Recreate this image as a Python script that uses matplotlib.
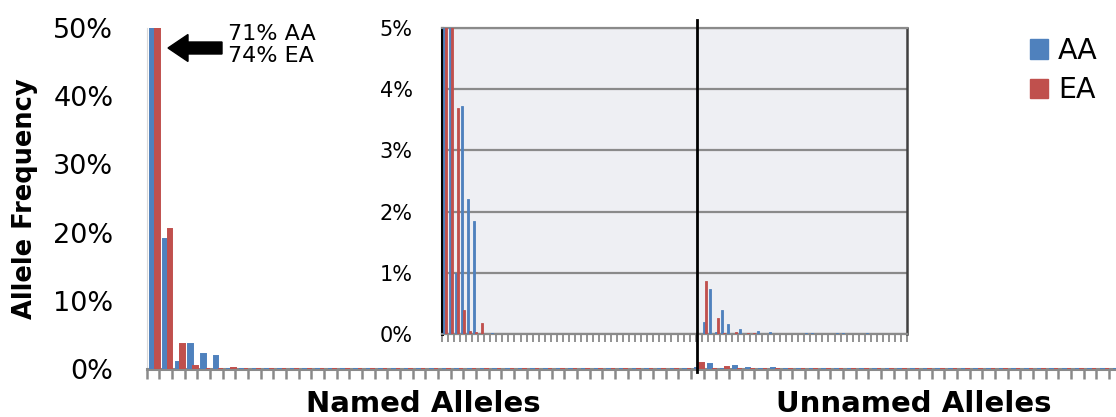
#!/usr/bin/env python3
"""
Allele frequency bar chart (AA vs EA), named and unnamed alleles,
with a zoomed 0-5% inset of the same data.
"""

import numpy as np
import matplotlib.pyplot as plt
import matplotlib.transforms as mtransforms
from matplotlib.patches import Patch, FancyArrow
from matplotlib.lines import Line2D
from matplotlib.ticker import PercentFormatter

# allele frequencies, one entry per allele (43 named, 34 unnamed)
named_aa = [0.71, 0.19, 0.010, 0.0372, 0.022, 0.0185, 0.0, 0.0, 0.0002, 0.0,
            0.0, 0.0, 0.0, 0.0, 0.0, 0.0, 0.0, 0.0, 0.0, 0.0,
            0.0, 0.0, 0.0, 0.0, 0.0, 0.0, 0.0, 0.0, 0.0, 0.0,
            0.0, 0.0, 0.0, 0.0, 0.0, 0.0, 0.0, 0.0, 0.0, 0.0,
            0.0, 0.0, 0.0]
named_ea = [0.74, 0.205, 0.037, 0.004, 0.0005, 0.0003, 0.0018, 0.0, 0.0, 0.0,
            0.0, 0.0, 0.0, 0.0, 0.0, 0.0, 0.0, 0.0, 0.0, 0.0,
            0.0, 0.0, 0.0, 0.0, 0.0, 0.0, 0.0, 0.0, 0.0, 0.0,
            0.0, 0.0, 0.0, 0.0, 0.0, 0.0, 0.0, 0.0, 0.0, 0.0,
            0.0, 0.0, 0.0]
unnamed_aa = [0.0019, 0.0074, 0.0003, 0.0039, 0.0017, 0.0, 0.0008, 0.0, 0.0, 0.0005,
              0.0, 0.0003, 0.0, 0.0, 0.0, 0.0, 0.0, 0.0002, 0.0002, 0.0,
              0.0, 0.0, 0.0002, 0.0002, 0.0, 0.0, 0.0, 0.0001, 0.0, 0.0,
              0.0, 0.0, 0.0, 0.0]
unnamed_ea = [0.0086, 0.0, 0.0026, 0.0002, 0.0, 0.0004, 0.0, 0.0002, 0.0002, 0.0,
              0.0, 0.0, 0.0, 0.0, 0.0, 0.0, 0.0, 0.0, 0.0, 0.0,
              0.0, 0.0, 0.0, 0.0, 0.0, 0.0, 0.0, 0.0, 0.0, 0.0,
              0.0, 0.0, 0.0, 0.0]
series = ["AA", "EA"]
main_yticks = [0.0, 0.1, 0.2, 0.3, 0.4, 0.5]
inset_yticks = [0.0, 0.01, 0.02, 0.03, 0.04, 0.05]

BLUE = "#4F81BD"
RED = "#C0504D"
AXIS_GRAY = "#8A8A8A"

W, H = 1116, 417


def fx(px):
    return px / W


def fy(py):
    return 1 - py / H


aa = np.array(named_aa + unnamed_aa)
ea = np.array(named_ea + unnamed_ea)
x = np.arange(len(aa))
n_named = len(named_aa)

fig = plt.figure(figsize=(W / 100, H / 100), dpi=100)

# main chart, 0-50%
main = fig.add_axes([fx(146.7), fy(369), 77 * 12.66 / W, (369 - 28) / H])
main.bar(x - 0.02, aa, width=0.36, color=BLUE, edgecolor=BLUE, lw=1.4, zorder=3)
main.bar(x + 0.34, ea, width=0.36, color=RED, edgecolor=RED, lw=1.4, zorder=3)
main.set_xlim(-0.5, len(aa) - 0.5)
main.set_ylim(0, 0.5)
main.set_yticks(main_yticks)
main.yaxis.set_major_formatter(PercentFormatter(1.0, decimals=0))
main.set_xticks(np.arange(-0.5, len(aa), 1.0))
main.set_xticklabels([])
main.tick_params(axis="x", direction="out", length=7.5, width=1.8, color=AXIS_GRAY)
main.tick_params(axis="y", length=0, labelsize=19.5, pad=24)
for s in ["top", "right"]:
    main.spines[s].set_visible(False)
main.spines["bottom"].set_color(AXIS_GRAY)
main.spines["bottom"].set_linewidth(2.2)
main.spines["left"].set_color("#D9D9D9")
main.spines["left"].set_linewidth(0.8)

# inset, 0-5%
ins = fig.add_axes([fx(442), fy(334), 465 / W, 306 / H])
ins.set_facecolor("#EEEFF3")
ins.set_axisbelow(True)
ins.bar(x - 0.17, aa, width=0.33, color=BLUE, edgecolor=BLUE, lw=0.6, zorder=3)
ins.bar(x + 0.17, ea, width=0.33, color=RED, edgecolor=RED, lw=0.6, zorder=3)
ins.set_xlim(-0.5, len(aa) - 0.5)
ins.set_ylim(0, 0.05)
ins.set_yticks(inset_yticks)
ins.yaxis.set_major_formatter(PercentFormatter(1.0, decimals=0))
ins.yaxis.grid(True, color=AXIS_GRAY, lw=1.6)
ins.set_xticks(np.arange(-0.5, len(aa), 1.0))
ins.set_xticklabels([])
ins.tick_params(axis="x", direction="out", length=5.5, width=1.3, color=AXIS_GRAY)
ins.tick_params(axis="y", length=0, labelsize=15, pad=21)
ins.spines["left"].set_color("black")
ins.spines["left"].set_linewidth(2.2)
ins.spines["bottom"].set_color(AXIS_GRAY)
ins.spines["bottom"].set_linewidth(1.6)
ins.spines["top"].set_color(AXIS_GRAY)
ins.spines["top"].set_linewidth(1.6)
ins.spines["right"].set_color("#404040")
ins.spines["right"].set_linewidth(1.8)

# separator between named and unnamed alleles
trans = mtransforms.blended_transform_factory(main.transData, fig.transFigure)
sep = Line2D([n_named, n_named], [fy(20), fy(372)], transform=trans,
             color="black", lw=2.0, zorder=10)
fig.add_artist(sep)

# arrow pointing at the clipped first bars
fig.add_artist(FancyArrow(fx(222), fy(48), -(222 - 168) / W, 0,
                          width=12 / H, head_width=27 / H, head_length=20 / W,
                          length_includes_head=True, transform=fig.transFigure,
                          color="black", zorder=10))
fig.text(fx(228), fy(24), f"{named_aa[0]:.0%} AA\n{named_ea[0]:.0%} EA",
         fontsize=16, va="top", ha="left", linespacing=1.15)

fig.text(fx(25), fy(199), "Allele Frequency", rotation=90, ha="center",
         va="center", fontsize=18.5, fontweight="bold")
fig.text(fx(423), fy(412), "Named Alleles", ha="center", va="baseline",
         fontsize=21, fontweight="bold")
fig.text(fx(914), fy(412), "Unnamed Alleles", ha="center", va="baseline",
         fontsize=21, fontweight="bold")

handles = [Patch(facecolor=BLUE, edgecolor=BLUE), Patch(facecolor=RED, edgecolor=RED)]
fig.legend(handles, series, loc="upper left", bbox_to_anchor=(fx(1030), fy(37)),
           frameon=False, fontsize=20.5, handlelength=0.63, handleheight=0.66,
           handletextpad=0.35, labelspacing=0.39, borderpad=0, borderaxespad=0)

fig.savefig("out.png", dpi=100)
